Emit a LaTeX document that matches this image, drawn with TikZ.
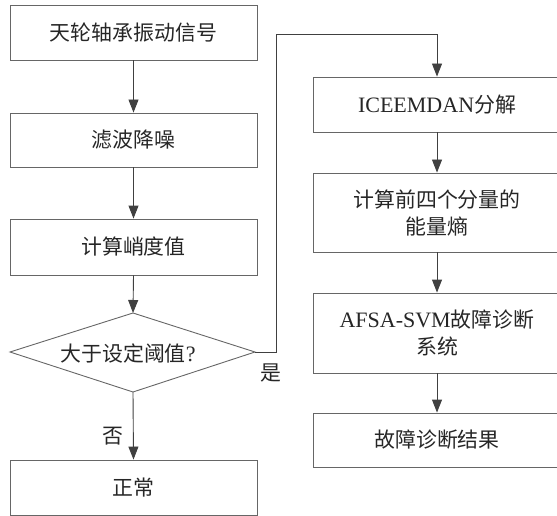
\documentclass[tikz,border=0pt]{standalone}
\usepackage{fontspec}
\setmainfont{Liberation Serif}
\newfontfamily\cjk{Noto Sans CJK SC}[Scale=0.95]
\usetikzlibrary{arrows.meta}
\begin{document}
\begin{tikzpicture}[x=1pt,y=-1pt,
  box/.style={draw=black!60,line width=0.9pt,minimum width=247pt,inner sep=0pt,font=\fontsize{22}{27}\selectfont,align=center,text=black!85},
  rbox/.style={draw=black!60,line width=0.9pt,minimum width=248pt,inner sep=0pt,font=\fontsize{22}{27}\selectfont,align=center,text=black!85},
  arr/.style={draw=black!75,line width=0.9pt,-{Triangle[length=13pt,width=10pt]}},
  lbl/.style={font=\fontsize{22}{24}\selectfont,text=black!85,inner sep=0pt}]
\useasboundingbox (0,0) rectangle (557,516);
\clip (0,0) rectangle (557,516);
% left column
\node[box,minimum height=55pt] (b1) at (133.5,32.5) {\cjk 天轮轴承振动信号};
\node[box,minimum height=54pt] (b2) at (133.5,140) {\cjk 滤波降噪};
\node[box,minimum height=56pt] (b3) at (133.5,247) {\cjk 计算峭度值};
\coordinate (dt) at (133,313);
\coordinate (dr) at (255,352);
\coordinate (db) at (133,392);
\coordinate (dl) at (10,352);
\draw[draw=black!60,line width=0.9pt] (dt) -- (dr) -- (db) -- (dl) -- cycle;
\node[lbl] (dtext) at (128,354) {\cjk 大于设定阈值\rmfamily ?};
\node[box,minimum height=55pt] (b4) at (133.5,487.5) {\cjk 正常};
% right column
\node[rbox,minimum height=55pt] (r1) at (437,104.5) {ICEEMDAN\cjk 分解};
\node[rbox,minimum height=79pt,text depth=0pt] (r2) at (437,212.5) {\cjk 计算前四个分量的\\\cjk 能量熵};
\node[rbox,minimum height=80pt] (r3) at (437,333) {AFSA-SVM\cjk 故障诊断\\\cjk 系统};
\node[rbox,minimum height=54pt] (r4) at (437,440) {\cjk 故障诊断结果};
% connectors
\draw[arr] (b1) -- (b2);
\draw[arr] (b2) -- (b3);
\draw[arr] (b3.south) -- (dt);
\draw[arr] (db) -- (b4.north);
\coordinate (c1) at (276,352);
\coordinate (c2) at (276,34);
\coordinate (c3) at (437,34);
\draw[arr] (dr) -- (c1) -- (c2) -- (c3) -- (r1.north);
\draw[arr] (r1) -- (r2);
\draw[arr] (r2) -- (r3);
\draw[arr] (r3) -- (r4);
\node[lbl] (yes) at (271,373) {\cjk 是};
\node[lbl] (no) at (113,436) {\cjk 否};
\end{tikzpicture}
\end{document}
